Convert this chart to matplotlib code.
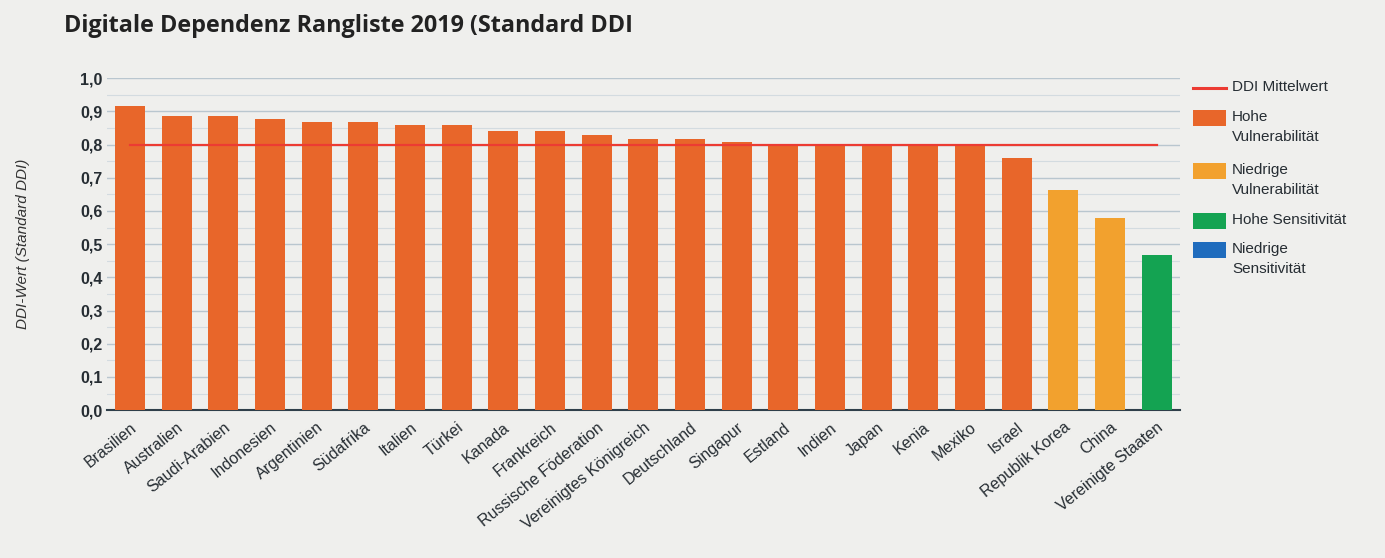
"""Digitale Dependenz Rangliste 2019 bar chart."""

import matplotlib.pyplot as plt
from matplotlib.lines import Line2D
from matplotlib.patches import Rectangle
from matplotlib.ticker import MultipleLocator, FuncFormatter

countries = [
    "Brasilien", "Australien", "Saudi-Arabien", "Indonesien", "Argentinien",
    "Südafrika", "Italien", "Türkei", "Kanada", "Frankreich",
    "Russische Föderation", "Vereinigtes Königreich", "Deutschland",
    "Singapur", "Estland", "Indien", "Japan", "Kenia", "Mexiko", "Israel",
    "Republik Korea", "China", "Vereinigte Staaten",
]
ddi_values = [
    0.915, 0.886, 0.886, 0.876, 0.867, 0.867, 0.858, 0.858, 0.840, 0.840,
    0.828, 0.816, 0.816, 0.807, 0.802, 0.801, 0.801, 0.801, 0.801, 0.758,
    0.662, 0.580, 0.468,
]
groups = ["hv"] * 20 + ["nv", "nv", "hs"]
ddi_mean = 0.80

legend_labels = ["DDI Mittelwert", "Hohe\nVulnerabilität", "Niedrige\nVulnerabilität",
                 "Hohe Sensitivität", "Niedrige\nSensitivität"]
legend_keys = ["line", "hv", "nv", "hs", "ns"]

colors = {"hv": "#e8662a", "nv": "#f2a12e", "hs": "#14a352", "ns": "#1f6cbd"}
line_color = "#ec3b33"
text_color = "#262d33"
bg = "#efefed"

plt.rcParams["font.family"] = ["Liberation Sans", "DejaVu Sans"]

W, H = 1385, 558
fig = plt.figure(figsize=(W / 100, H / 100), dpi=100, facecolor=bg)
ax = fig.add_axes([0.077, 0.265, 0.775, 0.595])
ax.set_facecolor(bg)

x = list(range(len(countries)))
ax.bar(x, ddi_values, width=0.64, color=[colors[g] for g in groups], zorder=3)
ax.plot([x[0], x[-1]], [ddi_mean, ddi_mean], color=line_color, lw=1.6, zorder=4)

ax.set_xlim(-0.5, len(countries) - 0.5)
ax.set_ylim(0, 1.0)
ax.yaxis.set_major_locator(MultipleLocator(0.1))
ax.yaxis.set_minor_locator(MultipleLocator(0.05))
ax.yaxis.set_major_formatter(FuncFormatter(lambda v, _: f"{v:.1f}".replace(".", ",")))
ax.grid(axis="y", which="major", color="#b9c6cf", lw=1.0, zorder=0)
ax.grid(axis="y", which="minor", color="#d3dbe0", lw=0.8, zorder=0)
ax.tick_params(axis="y", which="both", length=0, labelsize=11.5, colors=text_color, pad=3)
ax.tick_params(axis="x", length=0, pad=7)
for side in ["top", "right", "left"]:
    ax.spines[side].set_visible(False)
ax.spines["bottom"].set_color("#2f3f4a")
ax.spines["bottom"].set_linewidth(1.5)

ax.set_xticks(x)
ax.set_xticklabels(countries, rotation=39, ha="right", rotation_mode="anchor",
                   fontsize=11.5, color=text_color)
for lab in ax.get_yticklabels():
    lab.set_fontweight("bold")

ax.set_ylabel("DDI-Wert (Standard DDI)", fontstyle="italic", fontsize=11,
              color="#333333", labelpad=36)

fig.text(64 / W, 1 - 26 / H, "Digitale Dependenz Rangliste 2019 (Standard DDI",
         fontsize=16.8, fontweight="bold", color="#222222", va="center",
         family=["Open Sans", "DejaVu Sans"])

# legend drawn by hand so keys sit on the first text line
key_tops = [88, 110, 163, 213, 242]
for key, label, ytop in zip(legend_keys, legend_labels, key_tops):
    if key == "line":
        fig.add_artist(Line2D([1193 / W, 1226 / W], [1 - ytop / H] * 2,
                              color=line_color, lw=2.2))
        ytxt = ytop
    else:
        fig.add_artist(Rectangle((1193 / W, 1 - (ytop + 16) / H), 33 / W, 16 / H,
                                 color=colors[key], lw=0))
        ytxt = ytop + 8
    fig.text(1232 / W, 1 - (ytxt - 8) / H, label, fontsize=11, color=text_color,
             va="top", linespacing=1.55)

fig.savefig("out.png", dpi=100, facecolor=bg)
